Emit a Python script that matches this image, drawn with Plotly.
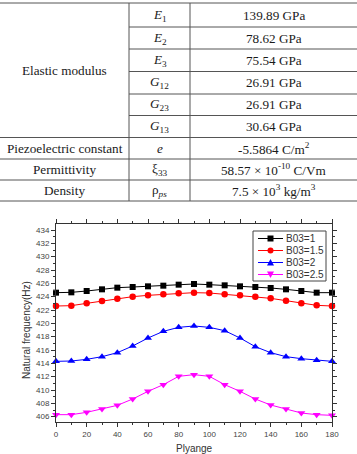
import plotly.graph_objects as go

# ---------------- data ----------------
ply_angle = [0, 10, 20, 30, 40, 50, 60, 70, 80, 90, 100, 110, 120, 130, 140, 150, 160, 170, 180]
b03_1 = [424.6, 424.65, 424.85, 425.1, 425.35, 425.45, 425.55, 425.65, 425.8, 425.9,
         425.8, 425.7, 425.55, 425.45, 425.3, 425.1, 424.85, 424.6, 424.6]
b03_15 = [422.6, 422.65, 423.0, 423.35, 423.7, 424.0, 424.2, 424.35, 424.5, 424.6,
          424.55, 424.35, 424.2, 424.0, 423.75, 423.4, 423.0, 422.7, 422.6]
b03_2 = [414.3, 414.35, 414.6, 415.0, 415.6, 416.6, 417.8, 418.8, 419.4, 419.6,
         419.4, 418.9, 417.8, 416.5, 415.6, 415.0, 414.7, 414.45, 414.3]
b03_25 = [406.3, 406.3, 406.65, 407.15, 407.7, 408.65, 409.8, 410.8, 412.05, 412.3,
          412.05, 410.8, 409.8, 408.65, 407.75, 407.15, 406.55, 406.3, 406.2]
series_names = ["B03=1", "B03=1.5", "B03=2", "B03=2.5"]

table_params = ["Elastic modulus", "Piezoelectric constant", "Permittivity", "Density"]
table_symbols = ["<i>E</i><sub>1</sub>", "<i>E</i><sub>2</sub>", "<i>E</i><sub>3</sub>",
                 "<i>G</i><sub>12</sub>", "<i>G</i><sub>23</sub>", "<i>G</i><sub>13</sub>",
                 "<i>e</i>", "ξ<sub>33</sub>", "ρ<sub><i>ps</i></sub>"]
table_values = ["139.89 GPa", "78.62 GPa", "75.54 GPa", "26.91 GPa", "26.91 GPa", "30.64 GPa",
                "-5.5864 C/m<sup>2</sup>", "58.57 × 10<sup>-10</sup> C/Vm",
                "7.5 × 10<sup>3</sup> kg/m<sup>3</sup>"]

# ---------------- layout geometry (pixels) ----------------
W, H = 357, 454
L, R, T, B = 56, 25, 224, 32
PW, PH = W - L - R, H - T - B


def px(x):
    return (x - L) / PW


def py(y):
    return (H - B - y) / PH


colors = ["#000000", "#ff0000", "#0000ff", "#ff00ff"]
symbols = ["square", "circle", "triangle-up", "triangle-down"]
sizes = [6, 6.5, 7, 7]
data = [b03_1, b03_15, b03_2, b03_25]

fig = go.Figure()
for name, ys, c, s, sz in zip(series_names, data, colors, symbols, sizes):
    fig.add_trace(go.Scatter(
        x=ply_angle, y=ys, name=name, mode="lines+markers",
        line=dict(color=c, width=1),
        marker=dict(symbol=s, size=sz, color=c, line=dict(width=0)),
        cliponaxis=False, showlegend=False,
    ))

shapes = []
annotations = []

# ---------------- table ----------------
row_edges = [3, 27, 49, 71.5, 94, 115.5, 137.5, 159, 180, 201]
line_col = "#555555"
tfont = dict(family="Liberation Serif", size=13.2, color="#1a1a1a")
col1_x, col2_x = 129, 190

for i, ye in enumerate(row_edges):
    x0 = 0 if (i == 0 or i >= 6) else col1_x
    shapes.append(dict(type="line", xref="paper", yref="paper",
                       x0=px(x0), x1=px(W), y0=py(ye), y1=py(ye),
                       line=dict(color=line_col, width=1)))
for xv in (col1_x, col2_x):
    shapes.append(dict(type="line", xref="paper", yref="paper",
                       x0=px(xv), x1=px(xv), y0=py(row_edges[0]), y1=py(row_edges[-1]),
                       line=dict(color=line_col, width=1)))

for i, (sym, val) in enumerate(zip(table_symbols, table_values)):
    yc = (row_edges[i] + row_edges[i + 1]) / 2
    annotations.append(dict(xref="paper", yref="paper", x=px((col1_x + col2_x) / 2), y=py(yc),
                            text=sym, showarrow=False, font=tfont,
                            xanchor="center", yanchor="middle"))
    annotations.append(dict(xref="paper", yref="paper", x=px((col2_x + W) / 2), y=py(yc),
                            text=val, showarrow=False, font=tfont,
                            xanchor="center", yanchor="middle"))

param_rows = [(0, 6), (6, 7), (7, 8), (8, 9)]
for p, (a, b) in zip(table_params, param_rows):
    yc = (row_edges[a] + row_edges[b]) / 2
    annotations.append(dict(xref="paper", yref="paper", x=px(col1_x / 2), y=py(yc),
                            text=p, showarrow=False, font=tfont,
                            xanchor="center", yanchor="middle"))

# ---------------- axis titles ----------------
afont = dict(family="Liberation Sans", size=10, color="#333333")
annotations.append(dict(xref="paper", yref="paper", x=px(26), y=py(330),
                        text="Natural frequency(Hz)", textangle=-90, showarrow=False,
                        font=afont, xanchor="center", yanchor="middle"))
annotations.append(dict(xref="paper", yref="paper", x=px(194), y=py(448),
                        text="Plyange", showarrow=False,
                        font=afont, xanchor="center", yanchor="middle"))

# ---------------- custom legend ----------------
lg_x0, lg_x1, lg_y0, lg_y1 = 253, 326, 231, 281
shapes.append(dict(type="rect", xref="paper", yref="paper",
                   x0=px(lg_x0), x1=px(lg_x1), y0=py(lg_y0), y1=py(lg_y1),
                   line=dict(color="#444444", width=1), fillcolor="white"))
legend_rows = [238.5, 250.5, 262.5, 274.5]
for name, c, s, yr in zip(series_names, colors, symbols, legend_rows):
    shapes.append(dict(type="line", xref="paper", yref="paper",
                       x0=px(258), x1=px(283), y0=py(yr), y1=py(yr),
                       line=dict(color=c, width=1)))
    m = 3
    if s == "square":
        shapes.append(dict(type="rect", xref="paper", yref="paper",
                           x0=px(270.5 - m), x1=px(270.5 + m), y0=py(yr - m), y1=py(yr + m),
                           line=dict(width=0), fillcolor=c))
    elif s == "circle":
        shapes.append(dict(type="circle", xref="paper", yref="paper",
                           x0=px(270.5 - m), x1=px(270.5 + m), y0=py(yr - m), y1=py(yr + m),
                           line=dict(width=0), fillcolor=c))
    elif s == "triangle-up":
        path = "M {} {} L {} {} L {} {} Z".format(px(270.5 - 3.5), py(yr + 3), px(270.5 + 3.5), py(yr + 3),
                                                  px(270.5), py(yr - 3.5))
        shapes.append(dict(type="path", xref="paper", yref="paper", path=path,
                           line=dict(width=0), fillcolor=c))
    else:
        path = "M {} {} L {} {} L {} {} Z".format(px(270.5 - 3.5), py(yr - 3), px(270.5 + 3.5), py(yr - 3),
                                                  px(270.5), py(yr + 3.5))
        shapes.append(dict(type="path", xref="paper", yref="paper", path=path,
                           line=dict(width=0), fillcolor=c))
    annotations.append(dict(xref="paper", yref="paper", x=px(284), y=py(yr),
                            text=name, showarrow=False, font=afont,
                            xanchor="left", yanchor="middle"))

axis_common = dict(
    showline=True, linecolor="#333333", linewidth=1, mirror="ticks",
    ticks="outside", ticklen=4, tickwidth=1, tickcolor="#333333",
    showgrid=False, zeroline=False,
    tickfont=dict(family="Liberation Sans", size=8, color="#444444"),
)

fig.update_layout(
    width=W, height=H,
    margin=dict(l=L, r=R, t=T, b=B),
    paper_bgcolor="white", plot_bgcolor="white",
    showlegend=False,
    xaxis=dict(range=[0, 180], dtick=20, tick0=0,
               minor=dict(dtick=10, ticks="outside", ticklen=2, tickcolor="#333333"),
               **axis_common),
    yaxis=dict(range=[405.2, 434.9], dtick=2, tick0=406,
               minor=dict(dtick=1, ticks="outside", ticklen=2, tickcolor="#333333"),
               **axis_common),
    shapes=shapes,
    annotations=annotations,
)

fig.write_html("out.html")
